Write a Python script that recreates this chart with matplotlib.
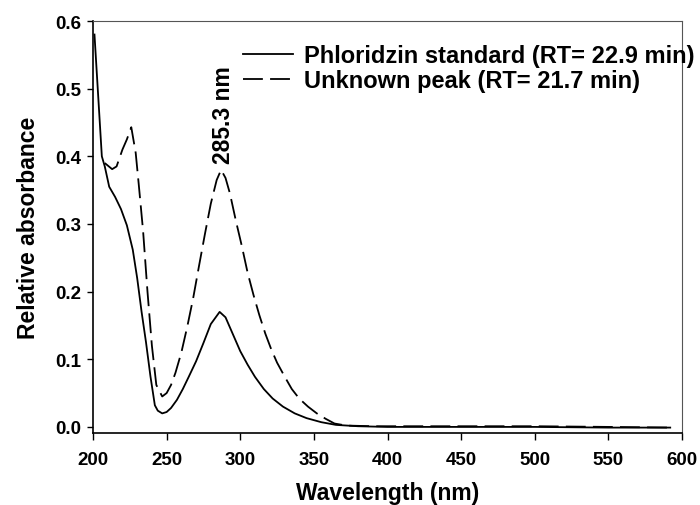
import numpy as np
import matplotlib
matplotlib.use("Agg")
import matplotlib.pyplot as plt

plt.rcParams['font.family'] = ['Liberation Sans', 'DejaVu Sans']
plt.rcParams['font.weight'] = 'bold'

# Phloridzin standard spectrum (solid line)
std_wl = [201, 206, 208, 211, 215, 219, 223, 227, 230, 233, 236, 239, 242, 244,
          247, 250, 253, 257, 261, 265, 270, 275, 280, 286, 290, 295, 300, 305,
          310, 316, 322, 329, 337, 345, 355, 365, 380, 400, 450, 500, 550, 592]
std_abs = [0.580, 0.400, 0.385, 0.355, 0.340, 0.322, 0.298, 0.262, 0.220, 0.170,
           0.125, 0.075, 0.032, 0.024, 0.020, 0.022, 0.028, 0.040, 0.056, 0.074,
           0.097, 0.124, 0.152, 0.170, 0.162, 0.137, 0.112, 0.092, 0.074, 0.056,
           0.042, 0.030, 0.020, 0.013, 0.007, 0.003, 0.001, 0.0, 0.0, 0.0,
           -0.001, -0.001]

# Unknown peak spectrum (dashed line)
unk_wl = [208, 213, 216, 220, 223, 226, 229, 231, 234, 237, 240, 243, 247, 250,
          253, 256, 260, 264, 268, 272, 276, 280, 284, 287, 290, 293, 297, 301,
          305, 309, 313, 317, 321, 325, 330, 335, 340, 346, 352, 358, 364, 372,
          390, 450, 500, 550, 592]
unk_abs = [0.390, 0.381, 0.385, 0.410, 0.425, 0.443, 0.405, 0.360, 0.290, 0.200,
           0.120, 0.062, 0.045, 0.050, 0.062, 0.080, 0.110, 0.148, 0.190, 0.238,
           0.285, 0.330, 0.365, 0.380, 0.368, 0.345, 0.305, 0.268, 0.228, 0.195,
           0.165, 0.138, 0.115, 0.095, 0.075, 0.056, 0.042, 0.030, 0.020, 0.012,
           0.005, 0.002, 0.001, 0.001, 0.001, 0.0, -0.001]

x_ticks = [200, 250, 300, 350, 400, 450, 500, 550, 600]
y_ticks = [0.0, 0.1, 0.2, 0.3, 0.4, 0.5, 0.6]

fig = plt.figure(figsize=(7, 5.06), dpi=100)
ax = fig.add_axes([93/700, 1 - 434/506, (682 - 93)/700, (434 - 22)/506])

ax.plot(std_wl, std_abs, color='black', lw=1.3,
        label='Phloridzin standard (RT= 22.9 min)')
ax.plot(unk_wl, unk_abs, color='black', lw=1.3, dashes=(11, 4),
        label='Unknown peak (RT= 21.7 min)')

ax.text(288.5, 0.39, '285.3 nm', rotation=90, ha='center', va='bottom',
        fontsize=16.5, fontweight='bold')

ax.set_xlim(200, 600)
ax.set_ylim(-0.009, 0.6)
ax.set_xticks(x_ticks)
ax.set_yticks(y_ticks)
ax.set_yticklabels([f'{v:.1f}' for v in y_ticks])
ax.tick_params(axis='x', direction='out', length=5, width=1, pad=8, labelsize=13.5)
ax.tick_params(axis='y', direction='out', length=4.5, width=1, pad=4, labelsize=13.5)

ax.set_xlabel('Wavelength (nm)', fontsize=16.5, fontweight='bold', labelpad=9)
ax.set_ylabel('Relative absorbance', fontsize=16.5, fontweight='bold', labelpad=11)

for side in ['left', 'bottom']:
    ax.spines[side].set_linewidth(1.2)
for side in ['top', 'right']:
    ax.spines[side].set_linewidth(0.8)
    ax.spines[side].set_color('#555555')

ax.legend(loc='upper left', bbox_to_anchor=(243/700, 1 - 45/506),
          bbox_transform=fig.transFigure, frameon=False, fontsize=17,
          handlelength=2.1, handletextpad=0.5, labelspacing=0.1,
          borderpad=0, borderaxespad=0)

fig.savefig('out.png', dpi=100)
